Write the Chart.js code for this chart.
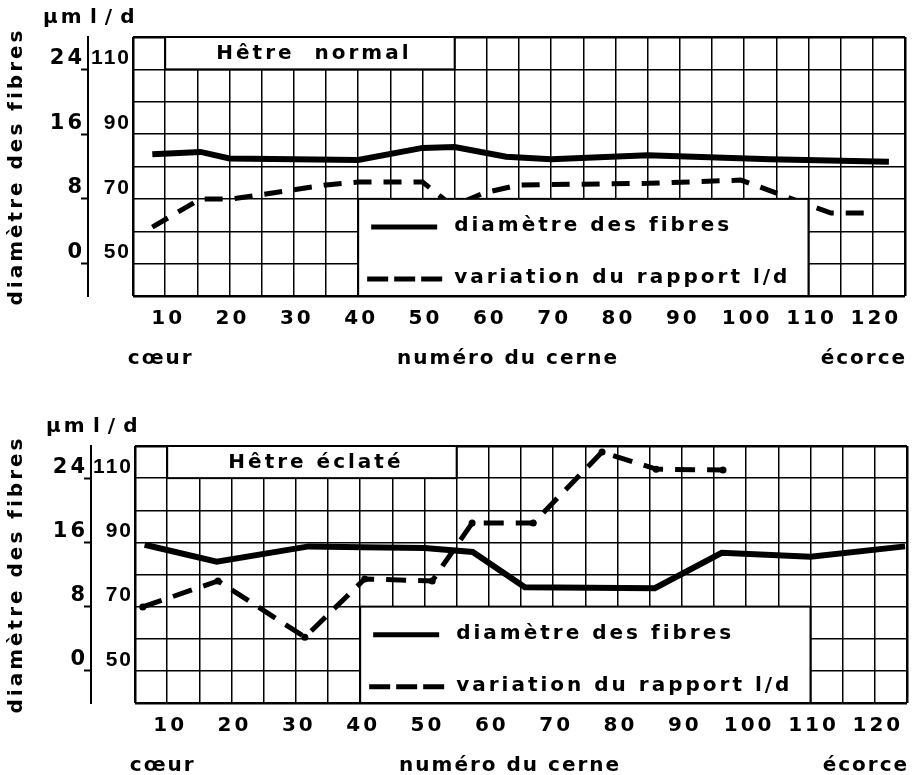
<!DOCTYPE html>
<html>
<head>
<meta charset="utf-8">
<script src="https://cdn.jsdelivr.net/npm/chart.js@4.4.1/dist/chart.umd.min.js"></script>
<style>
  html, body { margin: 0; padding: 0; background: #fff; }
  .box { position: absolute; left: 0; width: 920px; }
  #top { top: 0; height: 380px; }
  #bottom { top: 380px; height: 395px; }
</style>
</head>
<body>
<div class="box" id="top"><canvas id="normalChart"></canvas></div>
<div class="box" id="bottom"><canvas id="eclateChart"></canvas></div>
<script>
// numéro du cerne (x), diamètre des fibres in µm, rapport l/d
const normalDiamRing = [8, 15.5, 20, 40, 50, 55, 63, 70, 85, 104, 122.5];
const normalDiam = [13.5, 13.8, 13.0, 12.8, 14.3, 14.4, 13.2, 12.9, 13.4, 12.9, 12.6];
const normalRatioRing = [8, 15.5, 20.5, 35, 40, 50, 54.7, 59.5, 65, 85, 99.5, 113.5, 120];
const normalRatio = [61.3, 70, 70, 74.3, 75.2, 75.2, 67.8, 71.8, 74.3, 74.8, 75.8, 65.6, 65.6];

const eclateDiamRing = [6.5, 17.7, 32, 40.4, 50, 57.5, 65.6, 85.8, 96.2, 110, 124.7];
const eclateDiam = [15.7, 13.6, 15.5, 15.4, 15.3, 14.8, 10.4, 10.3, 14.7, 14.2, 15.5];
const eclateRatioRing = [6.2, 17.9, 31.4, 40.7, 51.2, 57.4, 66.9, 77.6, 86, 96.4];
const eclateRatio = [69.9, 78, 60.5, 78.6, 78, 96, 96, 118.1, 112.8, 112.5];

const umTicks = [0, 8, 16, 24];
const ratioTicks = [50, 70, 90, 110];
const sideLabels = ['cœur', 'numéro du cerne', 'écorce'];
const sideLabelRing = [9, 63, 118.3];
const seriesLabels = ['diamètre des fibres', 'variation du rapport l/d'];

const FAMILY = '"DejaVu Sans", Verdana, sans-serif';
const NARROW = '"Liberation Sans", Arial, sans-serif';
const bold = (size, family) => ({ family: family || FAMILY, size: size, weight: 'bold' });

// white boxes (title + legend) drawn over the grid, plus the "µm l/d" header
const paperPlugin = {
    id: 'paper',
    beforeDraw(chart) {
        chart.ctx.letterSpacing = '3px';
    },
    afterDatasetsDraw(chart, args, opts) {
        const ctx = chart.ctx;
        const x = chart.scales.x, y = chart.scales.y;
        ctx.save();
        ctx.letterSpacing = '3px';
        ctx.strokeStyle = '#000';
        ctx.lineWidth = 2;
        ctx.font = 'bold 20px ' + FAMILY;

        let l = x.getPixelForValue(10), r = x.getPixelForValue(55);
        let t = y.getPixelForValue(28), b = y.getPixelForValue(24);
        ctx.fillStyle = '#fff';
        ctx.fillRect(l, t, r - l, b - t);
        ctx.strokeRect(l, t, r - l, b - t);
        ctx.fillStyle = '#000';
        ctx.textAlign = 'center';
        ctx.textBaseline = 'middle';
        ctx.fillText(opts.title, (l + r) / 2 + 4, (t + b) / 2 + 1);

        l = x.getPixelForValue(40); r = x.getPixelForValue(110);
        t = y.getPixelForValue(8); b = y.getPixelForValue(-4);
        ctx.fillStyle = '#fff';
        ctx.fillRect(l, t, r - l, b - t);
        ctx.strokeRect(l, t, r - l, b - t);
        ctx.fillStyle = '#000';
        ctx.textAlign = 'left';
        ctx.textBaseline = 'alphabetic';
        chart.data.datasets.forEach((ds, i) => {
            const ly = t + 28 + i * 52;
            ctx.beginPath();
            ctx.lineWidth = 5;
            ctx.setLineDash(i ? [21, 6] : []);
            ctx.moveTo(l + (i ? 9 : 13), ly);
            ctx.lineTo(l + (i ? 84 : 79), ly);
            ctx.stroke();
            ctx.setLineDash([]);
            ctx.fillText(ds.label, l + 96, ly + 4);
        });
        ctx.restore();
        // l/d and side labels are drawn after the datasets, tighter spacing
        ctx.letterSpacing = '2px';
    },
    afterDraw(chart) {
        const ctx = chart.ctx;
        const ax = chart.scales.y.right;
        const top = chart.chartArea.top;
        ctx.save();
        ctx.fillStyle = '#000';
        ctx.font = 'bold 20px ' + FAMILY;
        ctx.textAlign = 'left';
        ctx.textBaseline = 'alphabetic';
        ctx.letterSpacing = '3px';
        ctx.fillText('µm', ax - 45, top - 14);
        ctx.letterSpacing = '8px';
        ctx.fillText('l/d', ax + 2, top - 14);
        ctx.restore();
    }
};

function edgeWidth(lo, hi) {
    return c => (c.tick && (c.tick.value === lo || c.tick.value === hi)) ? 2.5 : 1.5;
}

function makeChart(id, title, diamRing, diam, ratioRing, ratio, geo) {
    return new Chart(document.getElementById(id), {
        type: 'line',
        data: {
            datasets: [{
                label: seriesLabels[0],
                data: diamRing.map((r, i) => ({ x: r, y: diam[i] })),
                yAxisID: 'y',
                borderColor: '#000',
                borderWidth: 6,
                pointRadius: 0,
                tension: 0
            }, {
                label: seriesLabels[1],
                data: ratioRing.map((r, i) => ({ x: r, y: ratio[i] })),
                yAxisID: 'y2',
                borderColor: '#000',
                borderWidth: 5,
                borderDash: geo.dash,
                pointRadius: geo.dots,
                pointBackgroundColor: '#000',
                pointBorderWidth: 0,
                tension: 0
            }]
        },
        options: {
            responsive: true,
            maintainAspectRatio: false,
            animation: false,
            layout: { padding: { left: 0, right: geo.right, top: geo.top, bottom: geo.bottom } },
            plugins: {
                legend: { display: false },
                tooltip: { enabled: false },
                paper: { title: title }
            },
            scales: {
                x: {
                    type: 'linear',
                    position: 'bottom',
                    min: 5,
                    max: 125,
                    weight: 0,
                    ticks: {
                        stepSize: 5,
                        autoSkip: false,
                        maxRotation: 0,
                        padding: 11,
                        labelOffset: 3,
                        color: '#000',
                        font: bold(20),
                        callback: v => (Math.round(v) % 10 === 0 ? String(Math.round(v)) : '')
                    },
                    grid: { color: '#000', lineWidth: edgeWidth(5, 125), drawTicks: false },
                    border: { display: false },
                    afterFit: s => { s.height = 36; s.paddingLeft = 0; s.paddingRight = 0; }
                },
                x2: {
                    type: 'linear',
                    position: 'bottom',
                    min: 5,
                    max: 125,
                    weight: 1,
                    afterBuildTicks: s => { s.ticks = sideLabelRing.map(v => ({ value: v })); },
                    ticks: {
                        z: 1,
                        autoSkip: false,
                        maxRotation: 0,
                        padding: 7,
                        labelOffset: 2,
                        color: '#000',
                        font: bold(20),
                        callback: (v, i) => sideLabels[i]
                    },
                    grid: { display: false },
                    border: { display: false },
                    afterFit: s => { s.height = 36; s.paddingLeft = 0; s.paddingRight = 0; }
                },
                y2: {
                    position: 'left',
                    min: 40,
                    max: 120,
                    weight: 0,
                    ticks: {
                        stepSize: 10,
                        z: 1,
                        padding: 2,
                        labelOffset: -11,
                        color: '#000',
                        font: bold(21, NARROW),
                        callback: v => (ratioTicks.includes(v) ? String(v) : '')
                    },
                    grid: { color: '#000', lineWidth: edgeWidth(40, 120), drawTicks: false },
                    border: { display: false },
                    afterFit: s => { s.width = geo.ratioW; s.paddingTop = 0; s.paddingBottom = 0; }
                },
                y: {
                    position: 'left',
                    min: -4,
                    max: 28,
                    weight: 1,
                    afterBuildTicks: s => { s.ticks = umTicks.map(v => ({ value: v })); },
                    ticks: {
                        padding: -4,
                        labelOffset: -11,
                        color: '#000',
                        font: bold(21)
                    },
                    grid: { drawOnChartArea: false, drawTicks: true, tickLength: 7, tickWidth: 2, tickColor: '#000' },
                    border: { display: true, color: '#000', width: 2 },
                    title: {
                        display: true,
                        text: 'diamètre des fibres',
                        color: '#000',
                        font: bold(20),
                        padding: { top: 5, bottom: 0 }
                    },
                    afterFit: s => { s.width = geo.umW; s.paddingTop = 0; s.paddingBottom = 0; }
                }
            }
        },
        plugins: [paperPlugin]
    });
}

makeChart('normalChart', 'Hêtre  normal', normalDiamRing, normalDiam, normalRatioRing, normalRatio,
    { right: 15, top: 37, bottom: 12, umW: 88, ratioW: 45, dash: [18, 12], dots: 0 });
makeChart('eclateChart', 'Hêtre éclaté', eclateDiamRing, eclateDiam, eclateRatioRing, eclateRatio,
    { right: 13, top: 66, bottom: 0, umW: 91, ratioW: 44, dash: [20, 12], dots: 3.5 });
</script>
</body>
</html>
